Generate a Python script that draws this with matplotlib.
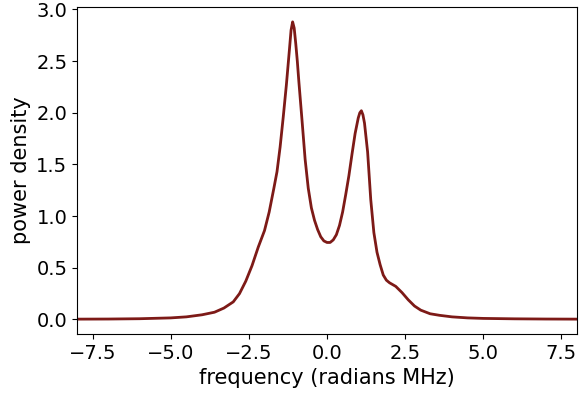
import numpy as np
import matplotlib.pyplot as plt
from matplotlib.ticker import MultipleLocator

# frequency grid (radians MHz) and power density
freq = [-8.0, -7.0, -6.0, -5.0, -4.5, -4.0, -3.6, -3.3, -3.0, -2.8, -2.6, -2.4,
        -2.2, -2.0, -1.85, -1.7, -1.6, -1.5, -1.4, -1.3, -1.2, -1.15, -1.1, -1.05,
        -1.0, -0.95, -0.9, -0.8, -0.7, -0.6, -0.5, -0.4, -0.3, -0.2, -0.1, 0.0,
        0.1, 0.2, 0.3, 0.4, 0.5, 0.6, 0.7, 0.8, 0.9, 1.0, 1.05, 1.1,
        1.15, 1.2, 1.3, 1.4, 1.5, 1.6, 1.7, 1.8, 1.9, 2.0, 2.2, 2.4,
        2.6, 2.8, 3.0, 3.3, 3.6, 4.0, 4.5, 5.0, 6.0, 7.0, 8.0]
power = [0.003, 0.004, 0.007, 0.015, 0.025, 0.045, 0.07, 0.11, 0.17, 0.25, 0.37, 0.52,
         0.70, 0.86, 1.04, 1.27, 1.43, 1.67, 1.96, 2.27, 2.62, 2.80, 2.88, 2.82,
         2.67, 2.50, 2.30, 1.93, 1.55, 1.27, 1.08, 0.96, 0.87, 0.80, 0.76, 0.745,
         0.745, 0.77, 0.82, 0.91, 1.04, 1.21, 1.39, 1.60, 1.80, 1.95, 2.0, 2.02,
         1.98, 1.90, 1.62, 1.16, 0.84, 0.65, 0.53, 0.43, 0.38, 0.355, 0.32, 0.26,
         0.19, 0.13, 0.09, 0.055, 0.04, 0.025, 0.015, 0.01, 0.006, 0.004, 0.003]

fig = plt.figure(figsize=(5.82, 3.94), dpi=100)
ax = fig.add_axes([77/582, 60/394, 500/582, 327/394])

ax.plot(freq, power, color='#7d1a17', lw=2)
ax.set_xlim(-8, 8)
ax.xaxis.set_major_locator(MultipleLocator(2.5))
ax.set_xlabel('frequency (radians MHz)', fontsize=15)
ax.set_ylabel('power density', fontsize=15)
ax.tick_params(labelsize=14)

fig.savefig('out.png', dpi=100)
